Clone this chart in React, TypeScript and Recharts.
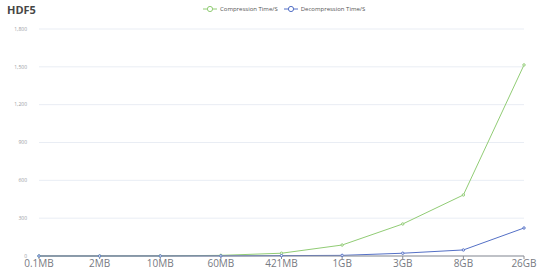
import { LineChart, Line, XAxis, YAxis, CartesianGrid } from 'recharts';

// Tailles de fichier (axe X)
const categories = ['0.1MB', '2MB', '10MB', '60MB', '421MB', '1GB', '3GB', '8GB', '26GB'];
// Temps en secondes
const compression = [0.1, 0.3, 1, 5, 22, 87, 254, 484, 1515];
const decompression = [0.05, 0.1, 0.4, 1, 3, 5, 22, 48, 222];
const yTicks = [0, 300, 600, 900, 1200, 1500, 1800];

const data = categories.map((name, i) => ({
  name,
  compression: compression[i],
  decompression: decompression[i],
}));

const GREEN = '#91cc75';
const BLUE = '#5470c6';

const LegendItem = ({ color, label }: { color: string; label: string }) => (
  <div style={{ display: 'flex', alignItems: 'center', gap: 3 }}>
    <svg width={14} height={8}>
      <line x1={0} y1={4} x2={14} y2={4} stroke={color} strokeWidth={1} />
      <circle cx={7} cy={4} r={2.6} fill="#fff" stroke={color} strokeWidth={1} />
    </svg>
    <span style={{ fontSize: 6, color: '#555' }}>{label}</span>
  </div>
);

export default function App() {
  return (
    <div style={{ position: 'absolute', left: 0, top: 0, width: 538, height: 279, background: '#fff', fontFamily: '"Open Sans", sans-serif' }}>
      <div style={{ position: 'absolute', left: 7, top: 2, fontSize: 11, fontWeight: 'bold', color: '#464646' }}>HDF5</div>
      <div style={{ position: 'absolute', left: 203, top: 5, display: 'flex', gap: 6 }}>
        <LegendItem color={GREEN} label="Compression Time/S" />
        <LegendItem color={BLUE} label="Decompression Time/S" />
      </div>
      <LineChart width={538} height={279} data={data} margin={{ top: 29, right: 14, left: 0, bottom: 0 }}>
        <CartesianGrid vertical={false} stroke="#e9edf4" strokeWidth={1} />
        <XAxis
          dataKey="name"
          height={23}
          padding={{ left: 0, right: 0 }}
          interval={0}
          stroke="#8a8d95"
          tickSize={3}
          tickMargin={1}
          tick={{ fontSize: 10, fill: '#777a82' }}
        />
        <YAxis
          width={39}
          domain={[0, 1800]}
          ticks={yTicks}
          axisLine={false}
          tickLine={false}
          tickMargin={6}
          tick={{ fontSize: 5, fill: '#9a9ca3' }}
          tickFormatter={(v) => new Intl.NumberFormat('en-US').format(v)}
        />
        <Line
          dataKey="compression"
          stroke={GREEN}
          strokeWidth={1}
          dot={{ r: 1.2, fill: '#fff', stroke: GREEN, strokeWidth: 1 }}
          isAnimationActive={false}
        />
        <Line
          dataKey="decompression"
          stroke={BLUE}
          strokeWidth={1}
          dot={{ r: 1.2, fill: '#fff', stroke: BLUE, strokeWidth: 1 }}
          isAnimationActive={false}
        />
      </LineChart>
    </div>
  );
}
